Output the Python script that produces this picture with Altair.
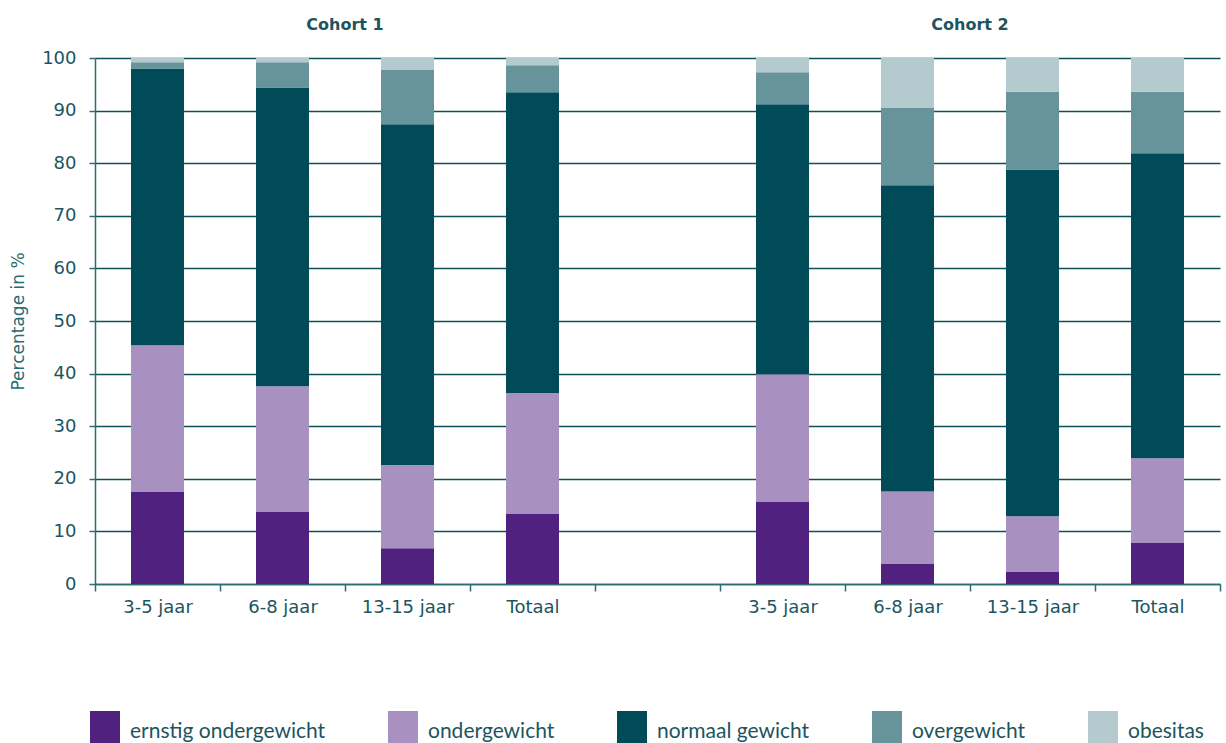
import altair as alt
import pandas as pd

# ---- data ----
bar_groups = ["1|3-5 jaar", "1|6-8 jaar", "1|13-15 jaar", "1|Totaal",
              "2|3-5 jaar", "2|6-8 jaar", "2|13-15 jaar", "2|Totaal"]
x_domain = ["1|3-5 jaar", "1|6-8 jaar", "1|13-15 jaar", "1|Totaal", "gap|",
            "2|3-5 jaar", "2|6-8 jaar", "2|13-15 jaar", "2|Totaal"]
categories = ["ernstig ondergewicht", "ondergewicht", "normaal gewicht",
              "overgewicht", "obesitas"]
colors = ["#512180", "#A891C0", "#004B57", "#67939B", "#B5CACF"]

ernstig = [17.6, 13.8, 6.8, 13.4, 15.7, 3.9, 2.4, 7.9]
onder = [27.8, 23.8, 15.8, 22.9, 24.2, 13.7, 10.5, 16.0]
normaal = [52.6, 56.8, 64.8, 57.2, 51.3, 58.2, 65.9, 58.0]
over = [1.2, 4.8, 10.4, 5.1, 6.1, 14.8, 14.8, 11.7]
obes = [0.8, 0.8, 2.2, 1.4, 2.7, 9.4, 6.4, 6.4]

cohort_titles = ["Cohort 1", "Cohort 2"]
cohort_anchor = ["1|6-8 jaar", "2|6-8 jaar"]

series = [ernstig, onder, normaal, over, obes]
rows = []
for ci, (cat, vals) in enumerate(zip(categories, series)):
    for g, v in zip(bar_groups, vals):
        rows.append({"group": g, "cat": cat, "idx": ci, "value": v})
df = pd.DataFrame(rows)
titles_df = pd.DataFrame({"group": cohort_anchor, "title": cohort_titles})

teal = "#1C5560"
axis_col = "#2E6B74"

x_scale = alt.Scale(domain=x_domain, paddingInner=0, paddingOuter=0)
x_axis = alt.Axis(title=None, labelExpr="split(datum.value, '|')[1]",
                  tickBand="extent", grid=False, labelAngle=0,
                  labelPadding=7, tickSize=7)

bars = alt.Chart(df).mark_bar(width=alt.RelativeBandSize(0.424)).encode(
    x=alt.X("group:N", scale=x_scale, axis=x_axis),
    y=alt.Y("value:Q", stack="zero",
            scale=alt.Scale(domain=[0, 100], nice=False),
            axis=alt.Axis(title="Percentage in %", values=list(range(0, 101, 10)),
                          grid=True, gridColor="#0E4F59", gridWidth=1.6,
                          tickSize=6, labelPadding=13, titlePadding=14,
                          titleFontSize=17, titleFontWeight="normal",
                          titleColor="#2A6A73", titleFont="DejaVu Sans")),
    color=alt.Color("cat:N", scale=alt.Scale(domain=categories, range=colors),
                    legend=alt.Legend(title=None, orient="none", legendX=-5, legendY=659,
                                      direction="horizontal", columns=5,
                                      symbolType="M-1,-1.4H1V1.2H-1Z",
                                      symbolSize=900,
                                      symbolStrokeWidth=0, symbolOpacity=1,
                                      labelOffset=10, columnPadding=62,
                                      labelFont="Lato", labelFontSize=21,
                                      labelColor=teal, padding=0, labelLimit=400)),
    order=alt.Order("idx:Q", sort="ascending"),
)

titles = alt.Chart(titles_df).mark_text(
    fontWeight="bold", fontSize=16, font="DejaVu Sans", color=teal, dx=62.5, dy=-33
).encode(
    x=alt.X("group:N", scale=x_scale, axis=x_axis),
    y=alt.datum(100),
    text="title:N",
)

chart = alt.layer(bars, titles).properties(
    width=1125, height=526,
    autosize=alt.AutoSizeParams(type="none"),
    padding={"left": 95, "top": 58, "right": 6, "bottom": 159},
).configure_view(stroke=None).configure_axis(
    domainColor=axis_col, domainWidth=1.5, tickColor=axis_col, tickWidth=1.5,
    labelFont="DejaVu Sans", labelFontSize=18, labelColor=teal,
)

chart.save("out.html", embed_options={"renderer": "svg", "actions": False})
